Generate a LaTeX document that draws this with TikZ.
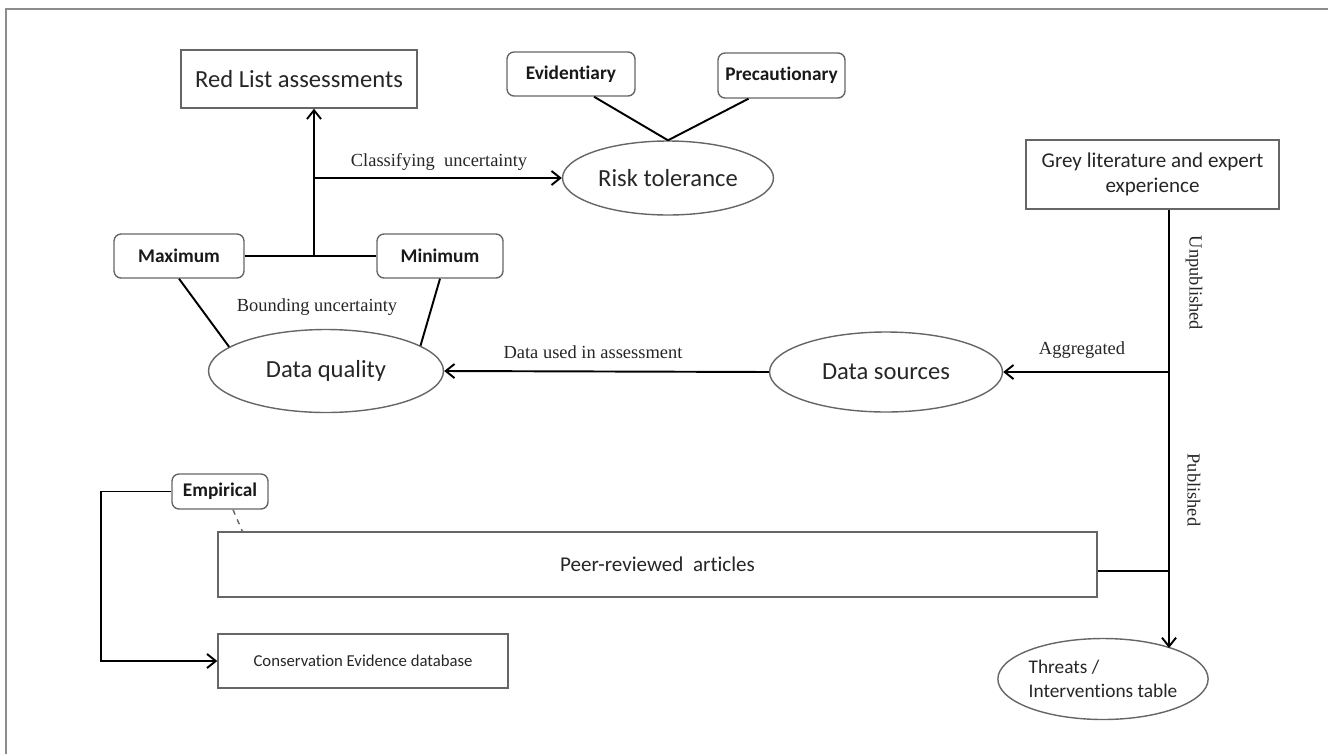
\documentclass[tikz,border=0pt]{standalone}
\usepackage{fontspec}
\setmainfont{Liberation Serif}
\newfontfamily\calib[Ligatures=NoCommon]{Carlito}
\usetikzlibrary{shapes.geometric,arrows.meta}

\begin{document}
\begin{tikzpicture}[x=0.02cm,y=-0.02cm,
  box/.style={draw=black!60,line width=0.8pt,rectangle,inner sep=0pt,align=center,text=black!85,font=\calib\fontsize{12}{14.5}\selectfont},
  tag/.style={draw=black!60,line width=0.8pt,rounded corners=4pt,inner sep=0pt,text=black!90,font=\calib\bfseries\fontsize{11}{13}\selectfont},
  blob/.style={draw=black!60,line width=0.8pt,ellipse,inner sep=0pt,text=black!85,font=\calib\fontsize{14}{16}\selectfont},
  link/.style={line width=1.1pt},
  flow/.style={line width=1.1pt,-{Straight Barb[length=5pt,width=8pt]}},
  lab/.style={text=black!85,font=\fontsize{10.5}{12}\selectfont}]

\useasboundingbox (0,0) rectangle (1328,754);

\draw [black!45,line width=1.2pt] (6,754) -- (6,9) -- (1328,9);

\node [box,minimum width=4.72cm,minimum height=1.16cm,font=\calib\fontsize{14}{16}\selectfont] (redlist) at (299,79) {Red List assessments};

\node [tag,minimum width=2.56cm,minimum height=0.88cm] (evid) at (571,74) {Evidentiary};
\node [tag,minimum width=2.54cm,minimum height=0.9cm] (prec) at (781.5,75.5) {Precautionary};

\node [blob,minimum width=4.22cm,minimum height=1.48cm] (risk) at (668,178) {Risk tolerance};

\node [tag,minimum width=2.6cm,minimum height=0.88cm] (max) at (179,256) {Maximum};
\node [tag,minimum width=2.52cm,minimum height=0.88cm] (min) at (440,256) {Minimum};

\node [blob,minimum width=4.7cm,minimum height=1.66cm] (dq) at (326,371) {Data quality};
\node [blob,minimum width=4.66cm,minimum height=1.6cm] (ds) at (886,372) {Data sources};

\node [box,minimum width=5.06cm,minimum height=1.38cm] (grey) at (1152.5,174.5) {Grey literature and expert\\experience};

\node [box,minimum width=17.58cm,minimum height=1.3cm] (peer) at (657.5,564.5) {Peer-reviewed\ \ articles};

\node [tag,minimum width=1.92cm,minimum height=0.7cm] (emp) at (220,491.5) {Empirical};

\node [box,minimum width=5.8cm,minimum height=1.08cm,font=\calib\fontsize{9.5}{11}\selectfont] (ce) at (363,661) {Conservation Evidence database};

\node [blob,minimum width=4cm,minimum height=1.62cm,align=left,font=\calib\fontsize{11}{14}\selectfont] (thr) at (1103,679) {Threats /\\Interventions table};

\coordinate (j1) at (314,255);
\coordinate (j2) at (314,178);
\coordinate (j3) at (1169,372);
\coordinate (j4) at (1169,571);
\coordinate (k) at (101,491.5);

\draw [link] (max) -- (min);
\draw [flow] (j1) -- (j1 |- redlist.south);
\draw [flow] (j2) -- (risk.west);
\node [lab] (clab) at (439,162) {Classifying\ \ uncertainty};

\draw [link] ([xshift=0.46cm]evid.south) -- (risk.north);
\draw [link] ([xshift=-0.66cm]prec.south) -- (risk.north);

\draw [link] (max.south) -- (dq.166);
\draw [link] (min.south) -- (dq.15);
\node [lab] (blab) at (317,307) {Bounding uncertainty};

\draw [flow] (ds.west) -- (dq.east);
\node [lab] (ulab) at (593,352) {Data used in assessment};

\draw [flow] (grey.south -| j3) -- (j3 |- thr.24);
\draw [flow] (j3) -- (ds.east);
\node [lab] (alab) at (1082,350) {Aggregated};
\node [lab,rotate=-90] (unlab) at (1194,283) {Unpublished};
\node [lab,rotate=-90] (plab) at (1194,490) {Published};

\draw [link] (j4) -- (j4 -| peer.east);

\draw [black!60,line width=0.8pt,dashed] ([xshift=0.26cm]emp.south) -- ([xshift=0.5cm]peer.north west);
\draw [flow] (emp.west) -- (k) |- (ce.west);

\end{tikzpicture}
\end{document}
